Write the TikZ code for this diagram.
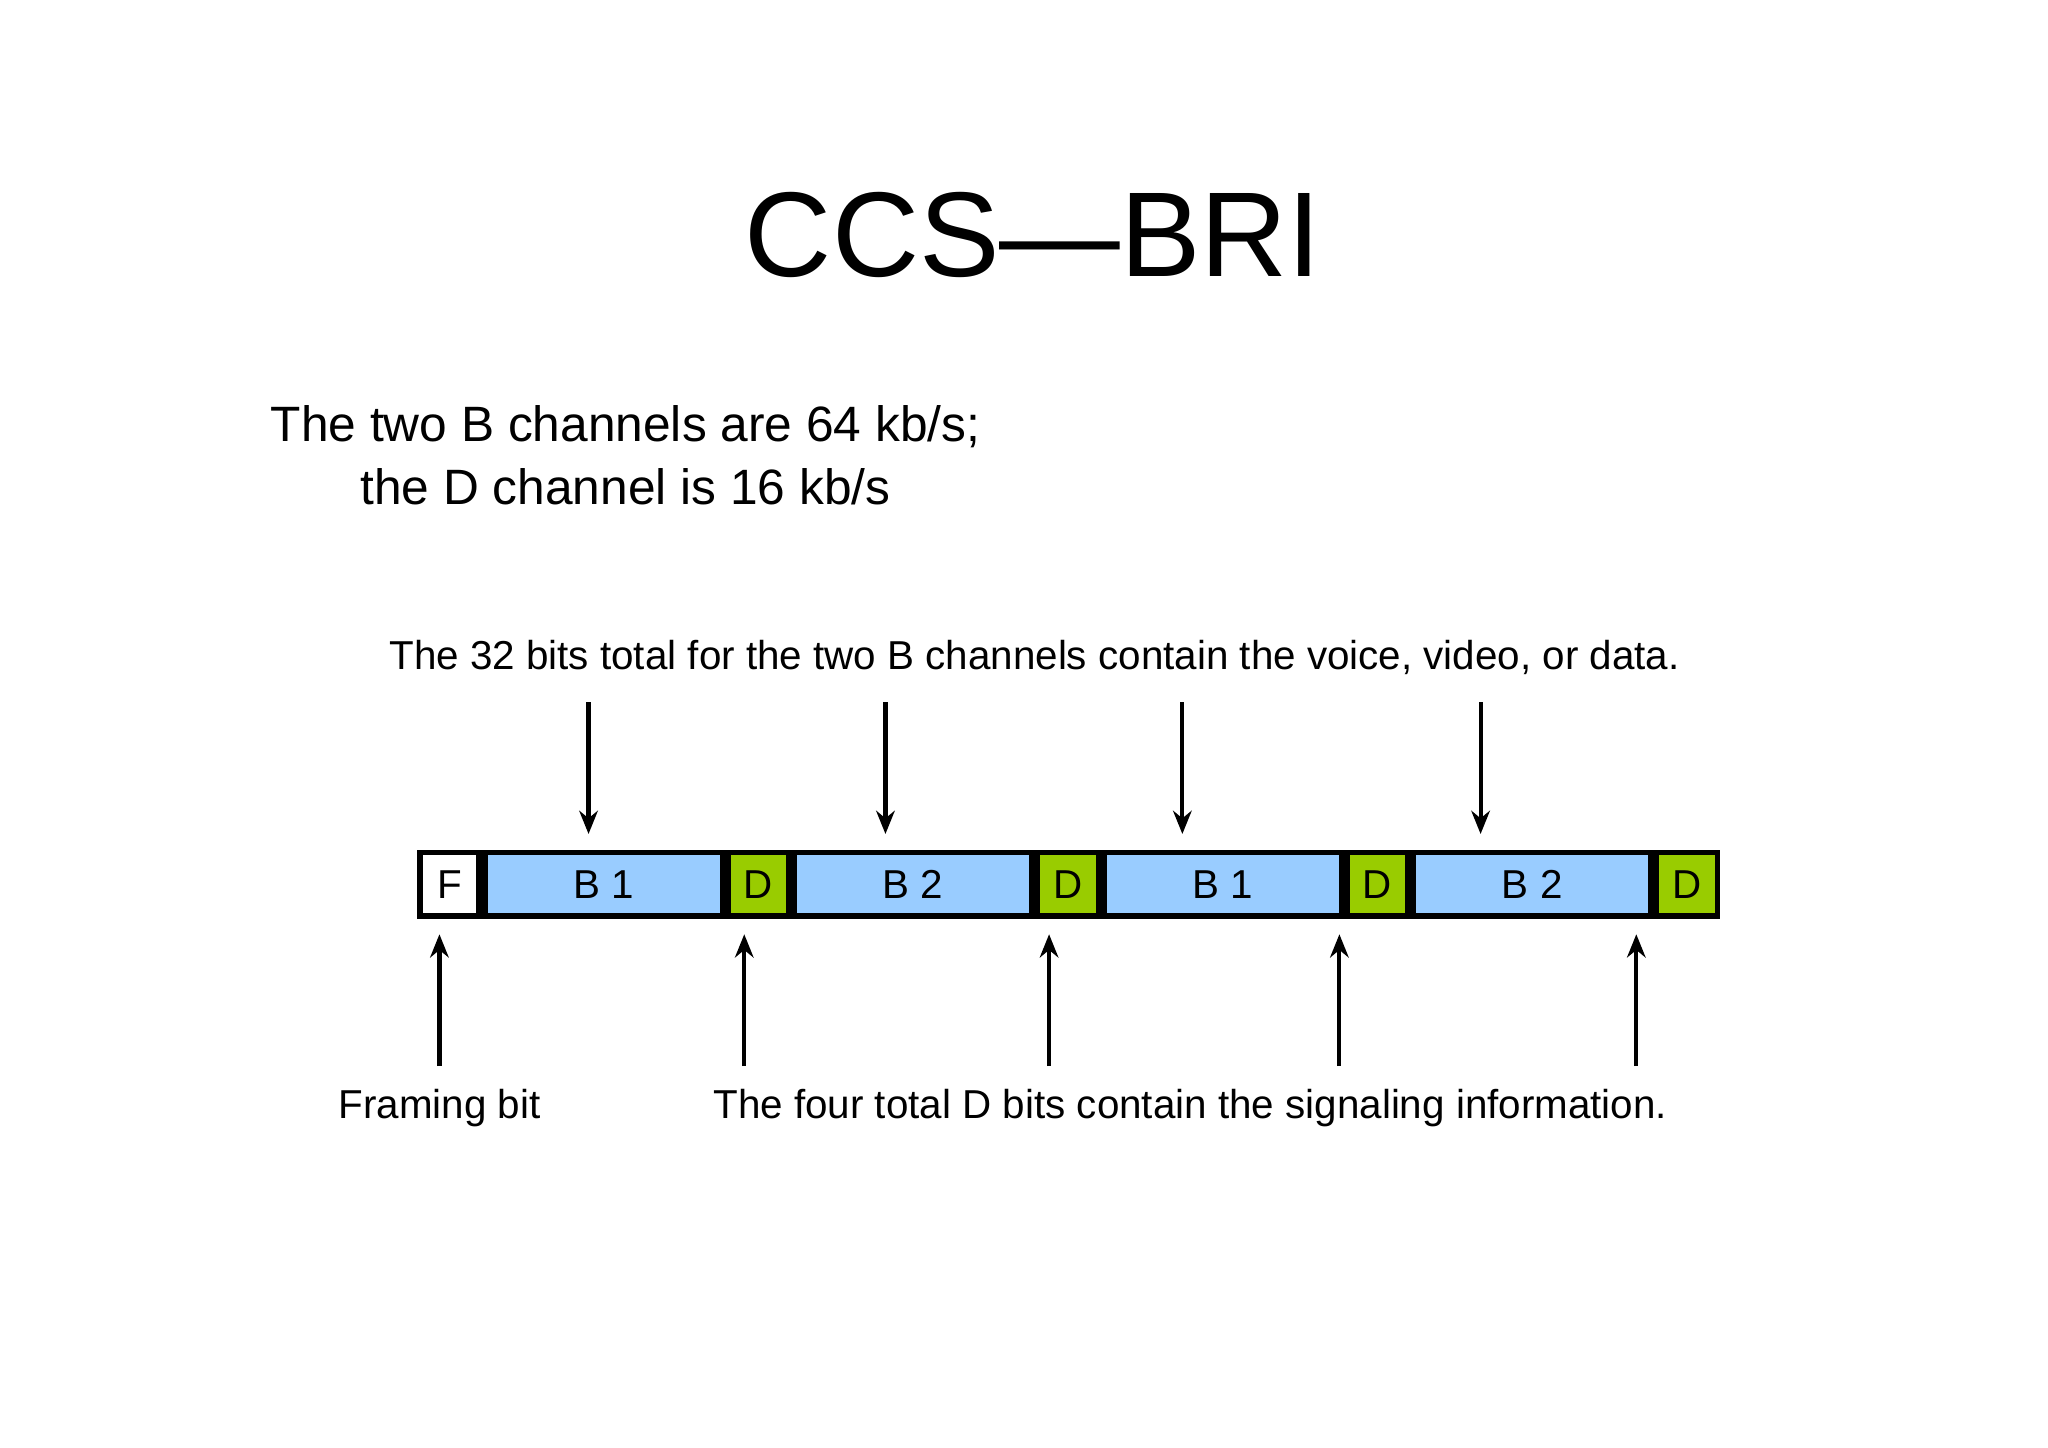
\documentclass[tikz,border=0pt]{standalone}
\usepackage{fontspec}
\setmainfont{Liberation Sans}
\usetikzlibrary{arrows.meta}
\definecolor{bblue}{HTML}{99CCFF}
\definecolor{dgreen}{HTML}{99CC00}
\begin{document}
\begin{tikzpicture}[x=0.01cm,y=-0.01cm,
  seg/.style={draw=black,line width=1.2pt,minimum height=0.48cm,inner sep=0pt,font=\fontsize{8.7}{10}\selectfont,anchor=west},
  bseg/.style={seg,fill=bblue,minimum width=1.80cm},
  dseg/.style={seg,fill=dgreen,minimum width=0.46cm},
  arr/.style={-{Stealth[length=5pt,width=4pt]},line width=0.9pt},
  lbl/.style={font=\fontsize{8.7}{10}\selectfont,inner sep=0pt}]
\useasboundingbox (0,0) rectangle (1552,1097);
\node[font=\fontsize{26}{30}\selectfont] (title) at (783,178) {CCS—BRI};
\node[font=\fontsize{10.7}{13.5}\selectfont,align=center] (sub) at (474,345) {The two B channels are 64 kb/s;\\the D channel is 16 kb/s};
\node[lbl] (top) at (784,498) {The 32 bits total for the two B channels contain the voice, video, or data.};
\node[lbl] (fb) at (333,840) {Framing bit};
\node[lbl] (dl) at (902,840) {The four total D bits contain the signaling information.};
\node[seg,fill=white,minimum width=0.45cm] (F) at (316,670) {F};
\node[bseg] (b1) at (F.east) {B 1};
\node[dseg] (d1) at (b1.east) {D};
\node[bseg] (b2) at (d1.east) {B 2};
\node[dseg] (d2) at (b2.east) {D};
\node[bseg] (b3) at (d2.east) {B 1};
\node[dseg] (d3) at (b3.east) {D};
\node[bseg] (b4) at (d3.east) {B 2};
\node[dseg] (d4) at (b4.east) {D};
\foreach \n/\x in {b1/446,b2/671,b3/896,b4/1122}{
  \coordinate (s\n) at (\x,532);
  \draw[arr] (s\n) -- (\x,632);
}
\foreach \n/\x in {F/333,d1/564,d2/795,d3/1015,d4/1240}{
  \coordinate (e\n) at (\x,808);
  \draw[arr] (e\n) -- (\x,708);
}
\end{tikzpicture}
\end{document}
